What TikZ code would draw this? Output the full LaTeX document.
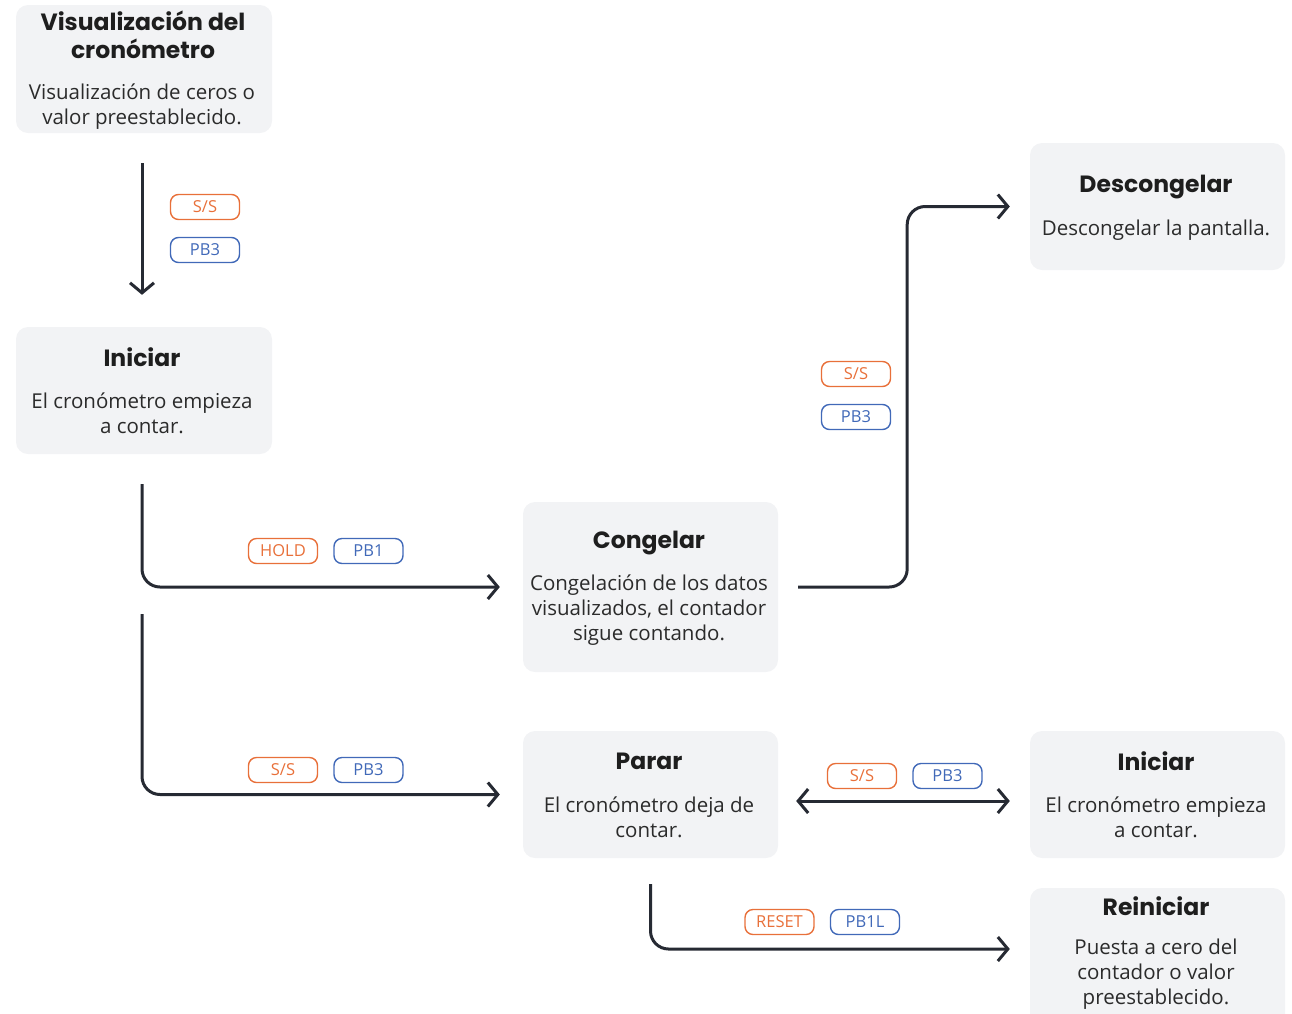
\documentclass[tikz,border=0pt]{standalone}
\usepackage{fontspec}
\setmainfont{Open Sans}
\newfontfamily\titlefont{Poppins}
\usetikzlibrary{arrows.meta}
\definecolor{boxgray}{HTML}{F2F3F5}
\definecolor{ink}{HTML}{262A33}
\definecolor{titleink}{HTML}{1E1E1E}
\definecolor{bodyink}{HTML}{2B2B2B}
\definecolor{tagorange}{HTML}{E8703A}
\definecolor{tagblue}{HTML}{4169B8}
\begin{document}
\begin{tikzpicture}[x=1pt,y=-1pt,
  box/.style={fill=boxgray, rounded corners=12pt, minimum width=256pt, minimum height=127pt, inner sep=0pt},
  ttl/.style={font=\titlefont\bfseries\fontsize{23.5}{28}\selectfont, align=center, text=titleink, inner sep=0pt},
  body/.style={font=\fontsize{20.5}{25}\selectfont, align=center, text=bodyink, inner sep=0pt},
  flow/.style={draw=ink, line width=3pt, rounded corners=18pt, -{Straight Barb[length=10pt,width=24pt]}},
  tag/.style={draw, line width=1.4pt, rounded corners=8pt, minimum width=69pt, minimum height=25pt, inner sep=0pt, font=\fontsize{16.5}{18}\selectfont},
  tagO/.style={tag, draw=tagorange, text=tagorange},
  tagB/.style={tag, draw=tagblue, text=tagblue}]
\useasboundingbox (0,0) rectangle (1292,1013);

% boxes
\node[box, minimum height=128pt] (vis) at (144,69) {};
\node[box] (ini1) at (144,390.5) {};
\node[box, minimum width=255pt, minimum height=170pt] (cong) at (650.5,587) {};
\node[box, minimum width=255pt] (desc) at (1157.5,206.5) {};
\node[box, minimum width=255pt] (parar) at (650.5,794.5) {};
\node[box, minimum width=255pt] (ini2) at (1157.5,794.5) {};
\node[box, minimum width=255pt, minimum height=140pt] (reinit) at (1157.5,958) {};

% texts
\node[ttl] (vis-t) at (143,34.5) {Visualización del\\cronómetro};
\node[body] (vis-b) at (142,106.5) {Visualización de ceros o\\valor preestablecido.};
\node[ttl] (ini1-t) at (142,357) {Iniciar};
\node[body] (ini1-b) at (142,413.5) {El cronómetro empieza\\a contar.};
\node[ttl] (cong-t) at (649,543) {Congelar};
\node[body] (cong-b) at (649,610) {Congelación de los datos\\visualizados, el contador\\sigue contando.};
\node[ttl] (desc-t) at (1156,187) {Descongelar};
\node[body] (desc-b) at (1156,230) {Descongelar la pantalla.};
\node[ttl] (parar-t) at (649,761) {Parar};
\node[body] (parar-b) at (649,817.5) {El cronómetro deja de\\contar.};
\node[ttl] (ini2-t) at (1156,761) {Iniciar};
\node[body] (ini2-b) at (1156,817.5) {El cronómetro empieza\\a contar.};
\node[ttl] (reinit-t) at (1156,906) {Reiniciar};
\node[body] (reinit-b) at (1156,974) {Puesta a cero del\\contador o valor\\preestablecido.};

% connectors
\coordinate (a3s) at (142,614);
\draw[flow, shorten <=30pt, shorten >=32pt] (vis.south -| 142,0) -- (ini1.north -| 142,0);
\draw[flow, shorten <=30pt, shorten >=23pt] (ini1.south -| 142,0) |- (cong.west);
\draw[flow, shorten >=23pt] (a3s) |- (parar.west);
\draw[flow, shorten <=20pt, shorten >=20pt] (cong.east) -- ++(129,0) |- (desc.west);
\draw[flow, {Straight Barb[length=10pt,width=24pt]}-{Straight Barb[length=10pt,width=24pt]}]
  ([xshift=18pt,yshift=-6.5pt]parar.east) -- ([xshift=-20pt,yshift=-6.5pt]ini2.west);
\draw[flow, shorten <=26pt, shorten >=20pt] (parar.south) |- ([yshift=9pt]reinit.west);

% tags
\node[tagO] (t1a) at (205,207) {S/S};
\node[tagB] (t1b) at (205,250) {PB3};
\node[tagO] (t2a) at (283,551) {HOLD};
\node[tagB] (t2b) at (368.5,551) {PB1};
\node[tagO] (t3a) at (283,770) {S/S};
\node[tagB] (t3b) at (368.5,770) {PB3};
\node[tagO] (t4a) at (856,374) {S/S};
\node[tagB] (t4b) at (856,417) {PB3};
\node[tagO] (t5a) at (862,776) {S/S};
\node[tagB] (t5b) at (947.5,776) {PB3};
\node[tagO] (t6a) at (779.5,922) {RESET};
\node[tagB] (t6b) at (865,922) {PB1L};
\end{tikzpicture}
\end{document}
